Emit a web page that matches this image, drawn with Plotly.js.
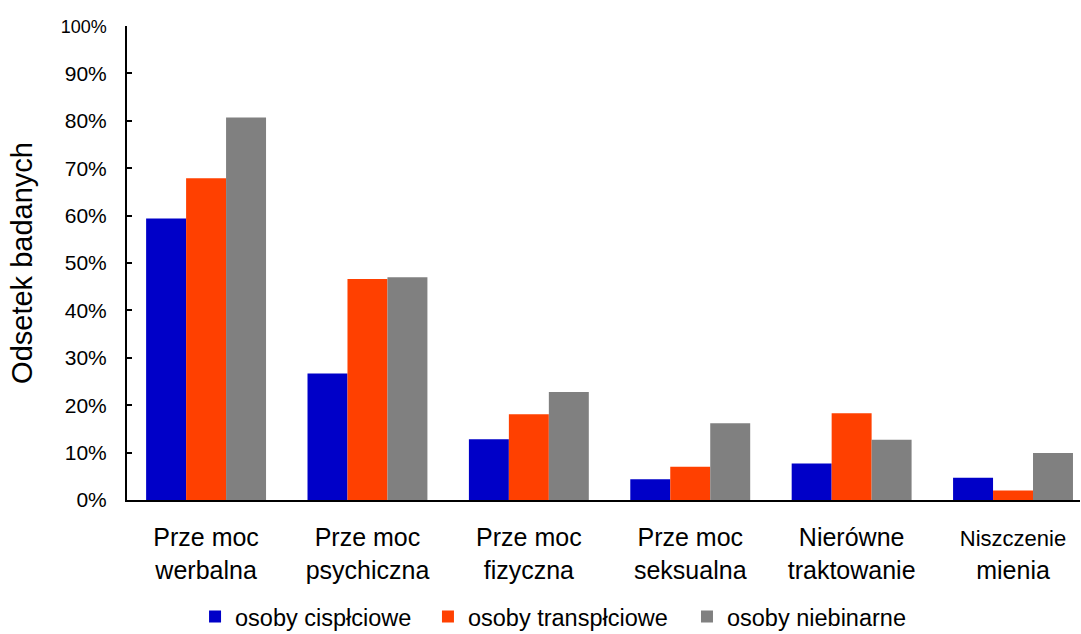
<!DOCTYPE html>
<html>
<head>
<meta charset="utf-8">
<script src="https://cdn.plot.ly/plotly-3.0.1.min.js"></script>
<style>html,body{margin:0;padding:0;background:#fff;}#chart{width:1081px;height:634px;}</style>
</head>
<body>
<div id="chart"></div>
<script>
const categories = ["Prze moc<br>werbalna", "Prze moc<br>psychiczna", "Prze moc<br>fizyczna", "Prze moc<br>seksualna", "Nierówne<br>traktowanie", "<span style=\"font-size:22px\">Niszczenie</span><br>mienia"];
const seriesNames = ["osoby cispłciowe", "osoby transpłciowe", "osoby niebinarne"];
const cisValues = [59.4, 26.7, 12.8, 4.4, 7.7, 4.7];
const transValues = [67.9, 46.6, 18.1, 7.0, 18.3, 2.0];
const nonbinaryValues = [80.7, 47.0, 22.8, 16.2, 12.7, 9.9];
const yTickValues = [0, 10, 20, 30, 40, 50, 60, 70, 80, 90, 100];
const yTickLabels = ["0%", "10%", "20%", "30%", "40%", "50%", "60%", "70%", "80%", "90%", "<span style=\"font-size:18px\">100%</span>"];
const colors = ["#0000c8", "#ff4000", "#808080"];

const xIdx = categories.map((c, i) => i);
const seriesValues = [cisValues, transValues, nonbinaryValues];
const legendIds = ["legend", "legend2", "legend3"];
const traces = seriesValues.map((vals, k) => ({
  type: "bar",
  name: seriesNames[k],
  x: xIdx,
  y: vals,
  legend: legendIds[k],
  marker: {color: colors[k], line: {width: 0}},
  hoverinfo: "skip"
}));

const font = "Liberation Sans, Arial, sans-serif";
const legendFont = {size: 23.5, family: font, color: "#000"};
const legendX = [0.0714, 0.3158, 0.5876];
const layout = {
  width: 1081, height: 634,
  margin: {l: 127, r: 1, t: 26, b: 134, pad: 0, autoexpand: false},
  paper_bgcolor: "#fff", plot_bgcolor: "#fff",
  barmode: "group", bargap: 0.257, bargroupgap: 0,
  font: {family: font, color: "#000"},
  xaxis: {
    range: [-0.49, 5.415],
    tickvals: xIdx, ticktext: categories,
    tickfont: {size: 25, family: font, color: "#000"},
    showgrid: false, zeroline: false,
    showline: true, linecolor: "#000", linewidth: 2,
    ticks: "", ticklabelstandoff: 14,
    automargin: false, fixedrange: true
  },
  yaxis: {
    range: [0, 100],
    tickvals: yTickValues, ticktext: yTickLabels,
    tickfont: {size: 21, family: font, color: "#000"},
    showgrid: false, zeroline: false,
    showline: true, linecolor: "#000", linewidth: 2,
    ticks: "inside", ticklen: 5, tickwidth: 2, tickcolor: "#000",
    ticklabelstandoff: 14,
    title: {text: "Odsetek badanych", font: {size: 29, family: font, color: "#000"}, standoff: 20},
    automargin: false, fixedrange: true
  },
  showlegend: true
};
legendIds.forEach((id, k) => {
  layout[id] = {
    orientation: "h",
    x: legendX[k], xanchor: "left",
    y: -0.2, yanchor: "top",
    font: legendFont,
    bgcolor: "rgba(0,0,0,0)"
  };
});

Plotly.newPlot("chart", traces, layout, {displayModeBar: false, staticPlot: true});
</script>
</body>
</html>
